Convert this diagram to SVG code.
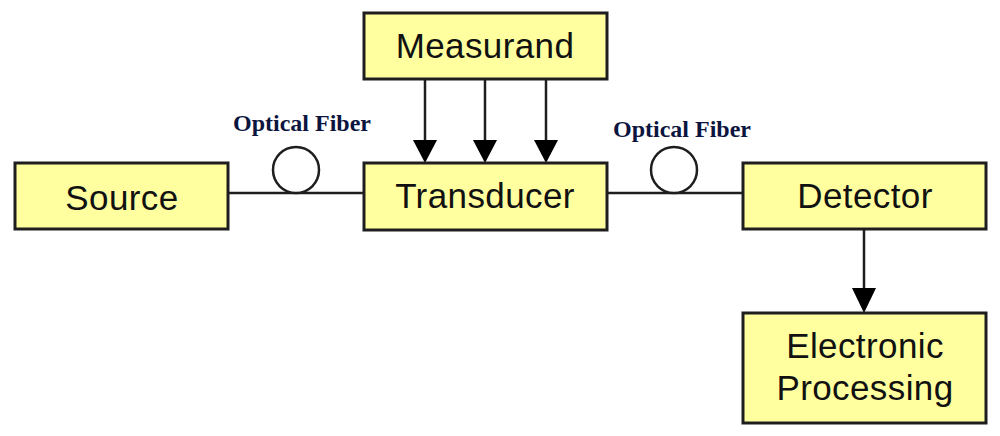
<svg xmlns="http://www.w3.org/2000/svg" width="1000" height="436" viewBox="0 0 1000 436">
<style>
.box{fill:#ffff9f;stroke:#1e1e1e;stroke-width:3}
.lbl{font-family:"Liberation Sans",Arial,sans-serif;font-size:35px;fill:#111;text-anchor:middle;letter-spacing:0.4px}
.fib{font-family:"Liberation Serif","Times New Roman",serif;font-weight:bold;font-size:24px;fill:#0c1540;text-anchor:middle}
.ln{stroke:#1e1e1e;stroke-width:2.5;fill:none}
.coil{stroke:#1e1e1e;stroke-width:2.5;fill:#fff}
.head{fill:#000}
</style>
<rect width="1000" height="436" fill="#fff"/>
<g id="connectors">
<line class="ln" x1="228" y1="193" x2="364" y2="193"/>
<circle class="coil" cx="296" cy="170" r="23"/>
<line class="ln" x1="607" y1="193" x2="743" y2="193"/>
<circle class="coil" cx="674" cy="170" r="23"/>
<line class="ln" x1="425" y1="79" x2="425" y2="142"/>
<path class="head" d="M413,140 L437,140 L425,163 Z"/>
<line class="ln" x1="485" y1="79" x2="485" y2="142"/>
<path class="head" d="M473,140 L497,140 L485,163 Z"/>
<line class="ln" x1="546" y1="79" x2="546" y2="142"/>
<path class="head" d="M534,140 L558,140 L546,163 Z"/>
<line class="ln" x1="864" y1="229" x2="864" y2="290"/>
<path class="head" d="M852,288 L876,288 L864,313 Z"/>
<text class="fib" x="302" y="131">Optical Fiber</text>
<text class="fib" x="682" y="137">Optical Fiber</text>
</g>
<g id="source">
<rect class="box" x="15" y="163" width="213" height="66"/>
<text class="lbl" x="122" y="210">Source</text>
</g>
<g id="measurand">
<rect class="box" x="364" y="13" width="243" height="66"/>
<text class="lbl" x="485" y="58">Measurand</text>
</g>
<g id="transducer">
<rect class="box" x="364" y="163" width="243" height="67"/>
<text class="lbl" x="485" y="208">Transducer</text>
</g>
<g id="detector">
<rect class="box" x="743" y="163" width="243" height="66"/>
<text class="lbl" x="865" y="208">Detector</text>
</g>
<g id="electronic-processing">
<rect class="box" x="743" y="313" width="243" height="110"/>
<text class="lbl" x="865" y="358">Electronic</text>
<text class="lbl" x="865" y="400">Processing</text>
</g>
</svg>
